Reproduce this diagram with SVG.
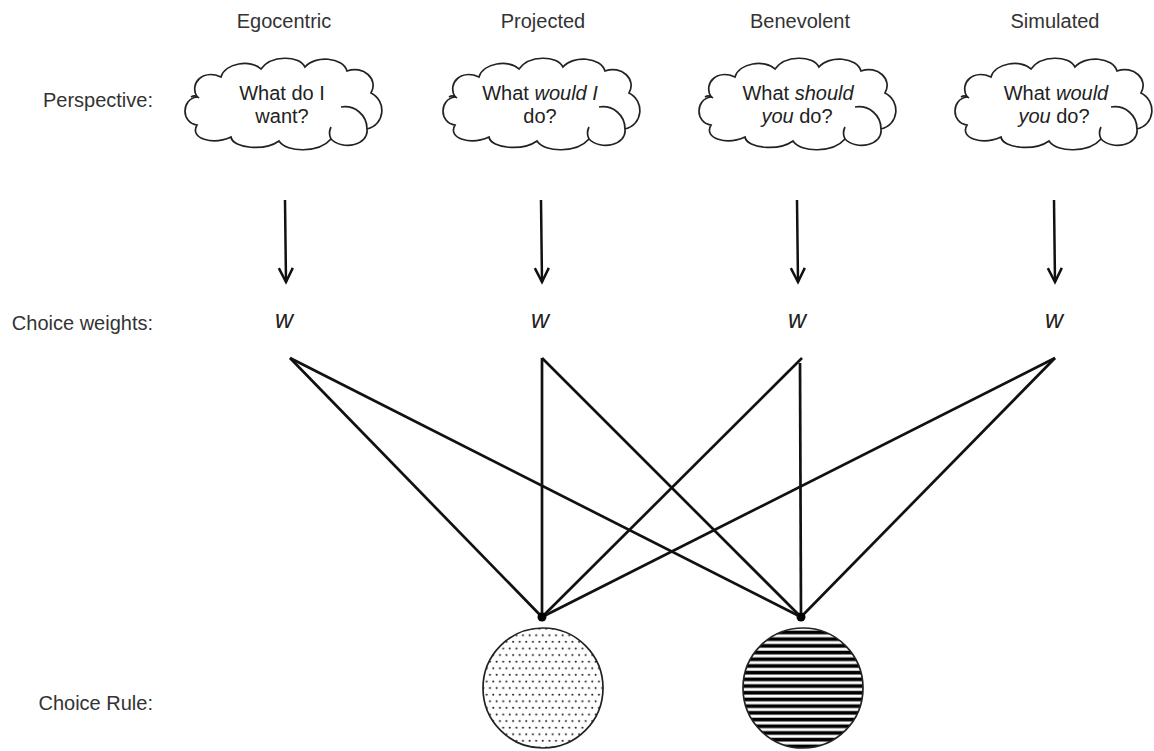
<svg xmlns="http://www.w3.org/2000/svg" width="1154" height="751" viewBox="0 0 1154 751">
<style>
.lbl{font-family:"Liberation Sans",Arial,sans-serif;font-size:20px;fill:#333}
.ct{font-family:"Liberation Sans",Arial,sans-serif;font-size:20px;fill:#222;text-anchor:middle}
.w{font-family:"Liberation Sans",Arial,sans-serif;font-size:25px;font-style:italic;fill:#222;text-anchor:middle}
.cloud{fill:#fff;stroke:#222;stroke-width:1.7}
.hook{fill:none;stroke:#222;stroke-width:1.7}
.arr{stroke:#111;stroke-width:2.5;fill:none}
.con{stroke:#111;stroke-width:2.7;fill:none}
</style>
<defs>
<marker id="ah" markerWidth="18" markerHeight="20" refX="15" refY="9" orient="auto" markerUnits="userSpaceOnUse" viewBox="0 0 18 18">
<path d="M1,2 L15,9 L1,16" fill="none" stroke="#111" stroke-width="2.5"/>
</marker>
<pattern id="dots" width="6.6" height="13.2" patternUnits="userSpaceOnUse">
<rect width="6.6" height="13.2" fill="#fff"/>
<circle cx="1.6" cy="1.6" r="1" fill="#111"/>
<circle cx="4.9" cy="8.2" r="1" fill="#111"/>
</pattern>
<pattern id="stripes" width="10" height="6.7" patternUnits="userSpaceOnUse" y="628">
<rect width="10" height="6.7" fill="#fff"/>
<rect y="2.6" width="10" height="3.7" fill="#000"/>
</pattern>
<path id="cl" d="M14,70 C-2,68 -2,44 14,42 C6,28 20,14 38,22 C42,8 68,4 78,14 C88,0 116,0 122,12 C132,0 160,2 164,16 C180,10 196,24 188,38 C204,46 202,70 184,74 C186,90 160,96 148,84 C136,98 104,98 96,86 C82,96 50,94 48,82 C30,90 6,84 14,70 Z"/>
<g id="hk">
<path d="M158,52 C172,50 184,60 184,74" fill="none"/>
<path d="M8,42 C11,40 14,41 16,43" fill="none"/>
<path d="M148,84 C146,80 146,76 148,72" fill="none"/>
</g>
</defs>
<rect width="1154" height="751" fill="#fff"/>

<g id="row-labels">
<text class="lbl" x="153" y="107" text-anchor="end">Perspective:</text>
<text class="lbl" x="153" y="330" text-anchor="end">Choice weights:</text>
<text class="lbl" x="153" y="710" text-anchor="end">Choice Rule:</text>
</g>

<g id="egocentric">
<text class="lbl" x="284" y="28" text-anchor="middle">Egocentric</text>
<use href="#cl" class="cloud" transform="translate(183,55)"/>
<use href="#hk" class="hook" transform="translate(183,55)"/>
<text class="ct" x="282" y="100">What do I</text>
<text class="ct" x="282" y="123">want?</text>
</g>

<g id="projected">
<text class="lbl" x="543" y="28" text-anchor="middle">Projected</text>
<use href="#cl" class="cloud" transform="translate(441,55)"/>
<use href="#hk" class="hook" transform="translate(441,55)"/>
<text class="ct" x="540" y="100">What <tspan font-style="italic">would I</tspan></text>
<text class="ct" x="540" y="123">do?</text>
</g>

<g id="benevolent">
<text class="lbl" x="800" y="28" text-anchor="middle">Benevolent</text>
<use href="#cl" class="cloud" transform="translate(697,55)"/>
<use href="#hk" class="hook" transform="translate(697,55)"/>
<text class="ct" x="798" y="100">What <tspan font-style="italic">should</tspan></text>
<text class="ct" x="797" y="123"><tspan font-style="italic">you</tspan> do?</text>
</g>

<g id="simulated">
<text class="lbl" x="1055" y="28" text-anchor="middle">Simulated</text>
<use href="#cl" class="cloud" transform="translate(953,55)"/>
<use href="#hk" class="hook" transform="translate(953,55)"/>
<text class="ct" x="1056" y="100">What <tspan font-style="italic">would</tspan></text>
<text class="ct" x="1054" y="123"><tspan font-style="italic">you</tspan> do?</text>
</g>

<g id="weights">
<text class="w" x="284" y="328">w</text>
<text class="w" x="540" y="328">w</text>
<text class="w" x="797" y="328">w</text>
<text class="w" x="1054" y="328">w</text>
</g>

<g id="connectors">
<line class="arr" x1="285" y1="200" x2="286" y2="282" marker-end="url(#ah)"/>
<line class="arr" x1="541" y1="200" x2="542" y2="282" marker-end="url(#ah)"/>
<line class="arr" x1="797" y1="200" x2="798" y2="282" marker-end="url(#ah)"/>
<line class="arr" x1="1054" y1="200" x2="1055" y2="282" marker-end="url(#ah)"/>
<line class="con" x1="290" y1="358" x2="542" y2="617"/>
<line class="con" x1="290" y1="358" x2="801" y2="617"/>
<line class="con" x1="542" y1="358" x2="542" y2="617"/>
<line class="con" x1="542" y1="358" x2="801" y2="617"/>
<line class="con" x1="802" y1="358" x2="542" y2="617"/>
<line class="con" x1="800" y1="363" x2="801" y2="617"/>
<line class="con" x1="1055" y1="358" x2="542" y2="617"/>
<line class="con" x1="1055" y1="358" x2="801" y2="617"/>
</g>

<g id="rule-dotted">
<circle cx="542" cy="617" r="4.5" fill="#000"/>
<circle cx="543" cy="688" r="60" fill="url(#dots)" stroke="#222" stroke-width="1.7"/>
</g>
<g id="rule-striped">
<circle cx="801" cy="617" r="4.5" fill="#000"/>
<circle cx="803" cy="688" r="60" fill="url(#stripes)" stroke="#222" stroke-width="1.7"/>
</g>
</svg>
